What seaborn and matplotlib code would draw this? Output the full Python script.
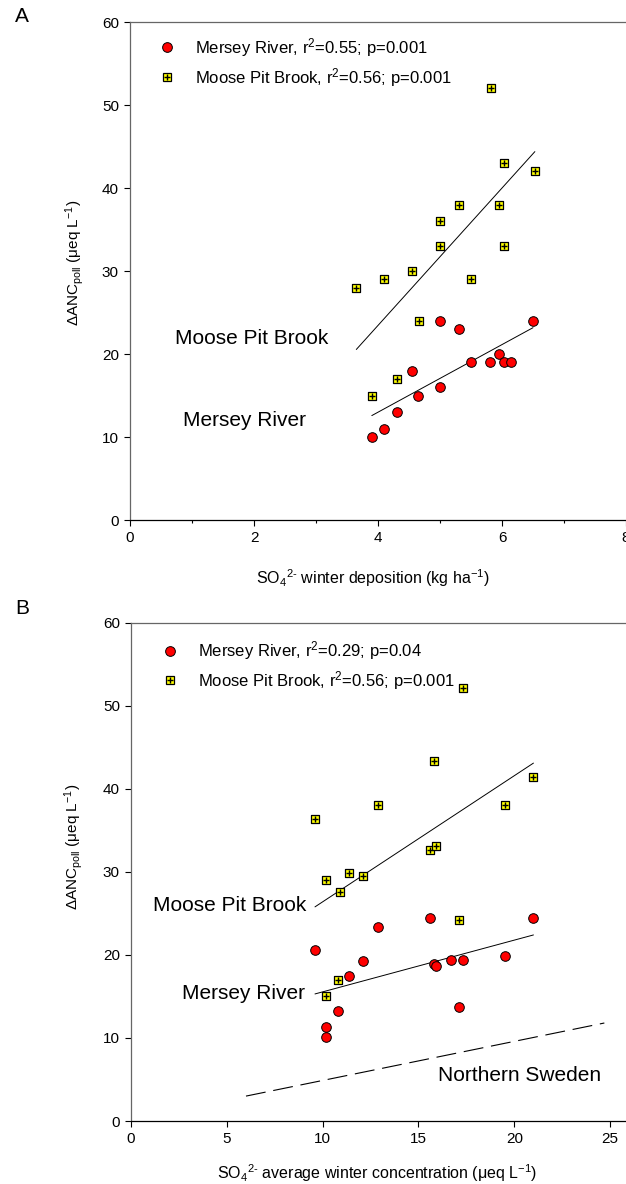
import numpy as np
import pandas as pd
import matplotlib
matplotlib.use("Agg")
import matplotlib.pyplot as plt
import seaborn as sns
from matplotlib.lines import Line2D
from matplotlib.legend_handler import HandlerTuple

# Panel A: winter deposition
mersey_dep_x = [3.9, 4.1, 4.3, 4.55, 4.65, 5.0, 5.0, 5.3, 5.5, 5.8, 5.95, 6.03, 6.15, 6.5]
mersey_dep_y = [10, 11, 13, 18, 15, 24, 16, 23, 19, 19, 20, 19, 19, 24]
moose_dep_x = [3.65, 4.1, 4.55, 5.0, 5.0, 5.3, 5.5, 5.82, 5.95, 6.04, 6.03, 6.53, 4.66, 4.31, 3.91]
moose_dep_y = [28, 29, 30, 33, 36, 38, 29, 52, 38, 43, 33, 42, 24, 17, 15]

# Panel B: average winter concentration
mersey_conc_x = [9.6, 10.2, 10.2, 10.8, 11.4, 12.1, 12.9, 15.6, 15.8, 15.9, 16.7, 17.1, 17.3, 19.5, 21.0]
mersey_conc_y = [20.6, 11.3, 10.1, 13.3, 17.5, 19.3, 23.3, 24.5, 18.9, 18.7, 19.4, 13.7, 19.4, 19.9, 24.5]
moose_conc_x = [9.6, 10.2, 10.9, 11.4, 12.1, 12.9, 15.6, 15.9, 15.8, 17.3, 19.5, 21.0, 10.8, 10.2, 17.1]
moose_conc_y = [36.4, 29.0, 27.6, 29.9, 29.5, 38.1, 32.6, 33.1, 43.4, 52.1, 38.1, 41.4, 17.0, 15.0, 24.2]

# Northern Sweden reference line
sweden_x = [6.0, 24.7]
sweden_y = [3.0, 11.8]

legend_a = ["Mersey River, r$^2$=0.55; p=0.001", "Moose Pit Brook, r$^2$=0.56; p=0.001"]
legend_b = ["Mersey River, r$^2$=0.29; p=0.04", "Moose Pit Brook, r$^2$=0.56; p=0.001"]

sns.set_style("ticks")
plt.rcParams['font.family'] = ['Liberation Sans', 'DejaVu Sans']
plt.rcParams['mathtext.fontset'] = 'custom'
plt.rcParams['mathtext.rm'] = 'Liberation Sans'
plt.rcParams['mathtext.it'] = 'Liberation Sans:italic'
plt.rcParams['mathtext.bf'] = 'Liberation Sans:bold'
plt.rcParams['text.color'] = 'black'
plt.rcParams['axes.labelcolor'] = 'black'
plt.rcParams['xtick.color'] = 'black'
plt.rcParams['ytick.color'] = 'black'

RED = '#ff0000'
YEL = '#ffff00'

fig = plt.figure(figsize=(6.26, 11.84), dpi=100)
axA = fig.add_axes([0.2077, 0.5608, 0.7923, 0.4206])
axB = fig.add_axes([0.2093, 0.0532, 0.7907, 0.4209])


def draw_panel(ax, mx, my, px, py):
    dm = pd.DataFrame({'x': mx, 'y': my})
    dp = pd.DataFrame({'x': px, 'y': py})
    sns.regplot(data=dp, x='x', y='y', ax=ax, scatter=False, ci=None, truncate=True,
                line_kws=dict(color='black', lw=0.7))
    sns.regplot(data=dm, x='x', y='y', ax=ax, scatter=False, ci=None, truncate=True,
                line_kws=dict(color='black', lw=0.7))
    sns.scatterplot(data=dp, x='x', y='y', ax=ax, marker='s', s=36, color=YEL,
                    edgecolor='black', linewidth=0.9, zorder=3)
    sns.scatterplot(data=dp, x='x', y='y', ax=ax, marker='+', s=14, color='black',
                    linewidth=1.0, zorder=4)
    sns.scatterplot(data=dm, x='x', y='y', ax=ax, marker='o', s=48, color=RED,
                    edgecolor='black', linewidth=0.7, zorder=5)


def style_axes(ax):
    ax.spines['right'].set_visible(False)
    ax.spines['top'].set_color('#666666')
    ax.spines['left'].set_color('#666666')
    ax.spines['bottom'].set_color('black')
    for s in ax.spines.values():
        s.set_linewidth(0.9)
    ax.set_ylim(0, 60)
    ax.set_yticks(range(0, 61, 10))
    ax.tick_params(axis='both', direction='out', length=4, width=0.8, labelsize=11,
                   pad=4, color='black')
    ax.tick_params(axis='x', which='minor', direction='out', length=2.5, width=0.8)


def make_legend(ax, labels, x0, y0):
    h1 = Line2D([], [], ls='none', marker='o', ms=7, mfc=RED, mec='black', mew=0.7)
    h2 = Line2D([], [], ls='none', marker='s', ms=6.3, mfc=YEL, mec='black', mew=0.9)
    h2p = Line2D([], [], ls='none', marker='+', ms=3.8, mec='black', mew=1.0)
    ax.legend([h1, (h2, h2p)], labels, loc='upper left', bbox_to_anchor=(x0, y0),
              frameon=False, fontsize=12, handlelength=1.0, handletextpad=1.2,
              borderpad=0, borderaxespad=0, labelspacing=0.42,
              handler_map={tuple: HandlerTuple(ndivide=1, pad=0)})


# ---- Panel A
draw_panel(axA, mersey_dep_x, mersey_dep_y, moose_dep_x, moose_dep_y)
style_axes(axA)
axA.set_xlim(0, 8)
axA.set_xticks([0, 2, 4, 6, 8])
axA.set_xticks([1, 3, 5, 7], minor=True)
axA.set_xlabel("SO$_4$$^{2\u2010}$ winter deposition (kg ha$^{-1}$)", fontsize=11.5)
axA.xaxis.set_label_coords(0.49, -0.095)
axA.set_ylabel("ΔANC$_{\\mathrm{poll}}$ (μeq L$^{-1}$)", fontsize=11)
axA.yaxis.set_label_coords(-0.088, 0.516)
axA.text(0.73, 21.9, "Moose Pit Brook", fontsize=15, va='center', ha='left')
axA.text(0.85, 12.0, "Mersey River", fontsize=15, va='center', ha='left')
make_legend(axA, legend_a, 0.057, 0.972)

# ---- Panel B
draw_panel(axB, mersey_conc_x, mersey_conc_y, moose_conc_x, moose_conc_y)
axB.plot(sweden_x, sweden_y, color='black', lw=0.8, dashes=(18, 7))
style_axes(axB)
axB.set_xlim(0, 25.83)
axB.set_xticks([0, 5, 10, 15, 20, 25])
axB.set_xlabel("SO$_4$$^{2\u2010}$ average winter concentration (μeq L$^{-1}$)", fontsize=11.5)
axB.xaxis.set_label_coords(0.497, -0.083)
axB.set_ylabel("ΔANC$_{\\mathrm{poll}}$ (μeq L$^{-1}$)", fontsize=11)
axB.yaxis.set_label_coords(-0.092, 0.55)
axB.text(1.16, 25.9, "Moose Pit Brook", fontsize=15, va='center', ha='left')
axB.text(2.65, 15.3, "Mersey River", fontsize=15, va='center', ha='left')
axB.text(16.04, 5.5, "Northern Sweden", fontsize=15, va='center', ha='left')
make_legend(axB, legend_b, 0.062, 0.967)

fig.text(15 / 626, 1 - 16 / 1184, "A", fontsize=15, va='center', ha='left')
fig.text(15 / 626, 1 - 608 / 1184, "B", fontsize=15, va='center', ha='left')

fig.savefig("out.png", dpi=100)
